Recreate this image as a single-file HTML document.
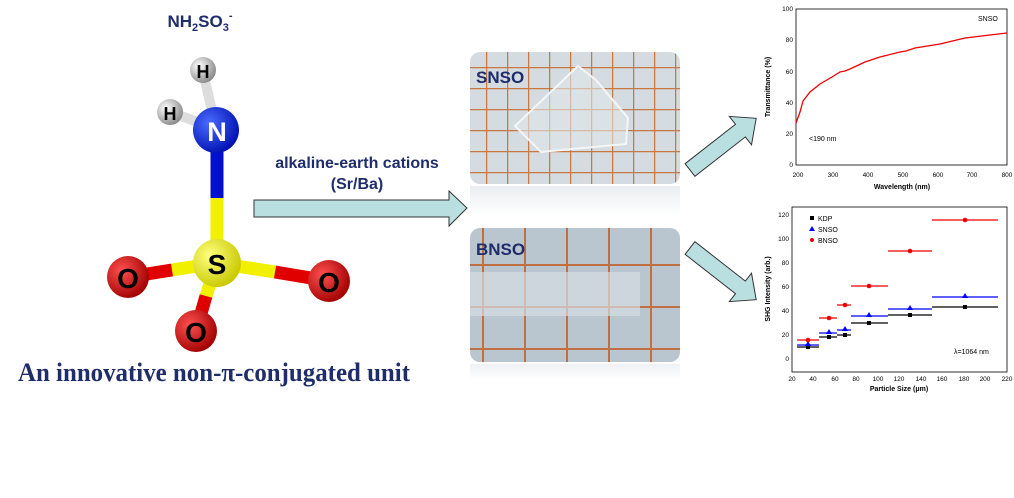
<!DOCTYPE html>
<html><head><meta charset="utf-8"><style>
html,body{margin:0;padding:0;background:#fff;width:1014px;height:498px;overflow:hidden}
svg text{font-family:"Liberation Sans",sans-serif}
</style></head><body>
<svg width="1014" height="498" viewBox="0 0 1014 498" xmlns="http://www.w3.org/2000/svg">
<defs>
<radialGradient id="gN" cx="0.35" cy="0.35" r="0.7"><stop offset="0" stop-color="#4a6cff"/><stop offset="1" stop-color="#0010b0"/></radialGradient>
<radialGradient id="gS" cx="0.35" cy="0.35" r="0.7"><stop offset="0" stop-color="#ffff80"/><stop offset="1" stop-color="#c8c800"/></radialGradient>
<radialGradient id="gO" cx="0.35" cy="0.35" r="0.7"><stop offset="0" stop-color="#ff5050"/><stop offset="1" stop-color="#a00000"/></radialGradient>
<radialGradient id="gH" cx="0.35" cy="0.35" r="0.7"><stop offset="0" stop-color="#ffffff"/><stop offset="1" stop-color="#888"/></radialGradient>
<linearGradient id="refl" x1="0" y1="0" x2="0" y2="1"><stop offset="0" stop-color="#dde2e6"/><stop offset="1" stop-color="#fff"/></linearGradient>
<pattern id="grid1" width="21" height="21" patternUnits="userSpaceOnUse" x="3" y="4"><rect width="21" height="21" fill="#d4dce2"/><path d="M0 0H21M0 0V21" stroke="#c87840" stroke-width="2.5"/></pattern>
<pattern id="grid2" width="42" height="42" patternUnits="userSpaceOnUse" x="20" y="12"><rect width="42" height="42" fill="#b9c5cf"/><path d="M0 0H42M0 0V42" stroke="#c07040" stroke-width="4"/></pattern>
</defs>
<text x="200" y="27" font-size="17" font-weight="bold" fill="#1f2d6b" text-anchor="middle">NH<tspan font-size="11" dy="4">2</tspan><tspan dy="-4">SO</tspan><tspan font-size="11" dy="4">3</tspan><tspan font-size="11" dy="-12">-</tspan></text>
<line x1="203" y1="72" x2="216" y2="128" stroke="#ddd" stroke-width="10"/>
<line x1="170" y1="112" x2="214" y2="128" stroke="#ddd" stroke-width="10"/>
<line x1="217" y1="140" x2="217" y2="200" stroke="#0010d0" stroke-width="13"/>
<line x1="217" y1="198" x2="217" y2="262" stroke="#f0f000" stroke-width="13"/>
<line x1="217" y1="263" x2="172" y2="270" stroke="#f0f000" stroke-width="13"/>
<line x1="172" y1="270" x2="128" y2="277" stroke="#e00000" stroke-width="13"/>
<line x1="217" y1="263" x2="275" y2="272" stroke="#f0f000" stroke-width="13"/>
<line x1="275" y1="272" x2="329" y2="281" stroke="#e00000" stroke-width="13"/>
<line x1="217" y1="263" x2="206" y2="296" stroke="#f0f000" stroke-width="13"/>
<line x1="206" y1="296" x2="196" y2="331" stroke="#e00000" stroke-width="13"/>
<circle cx="216" cy="130" r="23" fill="url(#gN)"/>
<circle cx="203" cy="70" r="13" fill="url(#gH)"/>
<circle cx="170" cy="112" r="13" fill="url(#gH)"/>
<circle cx="217" cy="263" r="24" fill="url(#gS)"/>
<circle cx="128" cy="277" r="21" fill="url(#gO)"/>
<circle cx="329" cy="281" r="21" fill="url(#gO)"/>
<circle cx="196" cy="331" r="21" fill="url(#gO)"/>
<text x="217" y="141" font-size="27" font-weight="bold" fill="#fff" text-anchor="middle">N</text>
<text x="203" y="78" font-size="18" font-weight="bold" fill="#000" text-anchor="middle">H</text>
<text x="170" y="120" font-size="18" font-weight="bold" fill="#000" text-anchor="middle">H</text>
<text x="217" y="274" font-size="28" font-weight="bold" fill="#000" text-anchor="middle">S</text>
<text x="128" y="288" font-size="28" font-weight="bold" fill="#000" text-anchor="middle">O</text>
<text x="329" y="292" font-size="28" font-weight="bold" fill="#000" text-anchor="middle">O</text>
<text x="196" y="342" font-size="28" font-weight="bold" fill="#000" text-anchor="middle">O</text>
<text x="18" y="381" font-size="26" font-weight="bold" fill="#1f2d6b" textLength="392" lengthAdjust="spacingAndGlyphs" style="font-family:'Liberation Serif',serif">An innovative non-π-conjugated unit</text>
<text x="357" y="168" font-size="16" font-weight="bold" fill="#1f2d6b" text-anchor="middle">alkaline-earth cations</text>
<text x="357" y="189" font-size="16" font-weight="bold" fill="#1f2d6b" text-anchor="middle">(Sr/Ba)</text>
<polygon points="254,200 449,200 449,191 467,208 449,226 449,217 254,217" fill="#b9dfe0" stroke="#333" stroke-width="1"/>
<rect x="470" y="52" width="210" height="132" rx="10" fill="url(#grid1)"/>
<polygon points="578,66 596,80 628,118 626,144 541,152 515,126" fill="#e0e6ea" fill-opacity="0.6" stroke="#f4f6f8" stroke-width="2"/>
<rect x="470" y="186" width="210" height="30" fill="url(#refl)" opacity="0.6"/>
<text x="476" y="83" font-size="17" font-weight="bold" fill="#1f2d6b">SNSO</text>
<rect x="470" y="228" width="210" height="134" rx="10" fill="url(#grid2)"/>
<rect x="470" y="272" width="170" height="44" fill="#d6dce2" opacity="0.7"/>
<rect x="470" y="364" width="210" height="16" fill="url(#refl)" opacity="0.5"/>
<text x="476" y="255" font-size="17" font-weight="bold" fill="#1f2d6b">BNSO</text>
<g transform="translate(690,170) rotate(-38)"><polygon points="0,-8 64,-8 64,-18 84,0 64,18 64,8 0,8" fill="#b9dfe0" stroke="#333"/></g>
<g transform="translate(690,248) rotate(38)"><polygon points="0,-8 64,-8 64,-18 84,0 64,18 64,8 0,8" fill="#b9dfe0" stroke="#333"/></g>
<g font-size="6.5" fill="#000">
<rect x="796" y="9" width="211" height="156" fill="none" stroke="#000" stroke-width="0.8"/>
<g text-anchor="end"><text x="793" y="167">0</text><text x="793" y="136">20</text><text x="793" y="105">40</text><text x="793" y="74">60</text><text x="793" y="42">80</text><text x="793" y="11">100</text></g>
<g text-anchor="middle"><text x="798" y="177">200</text><text x="833" y="177">300</text><text x="868" y="177">400</text><text x="903" y="177">500</text><text x="938" y="177">600</text><text x="972" y="177">700</text><text x="1007" y="177">800</text></g>
<text x="902" y="189" text-anchor="middle" font-weight="bold" font-size="7">Wavelength (nm)</text>
<text transform="translate(770,87) rotate(-90)" text-anchor="middle" font-weight="bold" font-size="7">Transmittance (%)</text>
<text x="978" y="21" font-size="7">SNSO</text>
<text x="809" y="141" font-size="7">&lt;190 nm</text>
<path d="M796,123 L800,112 L803,101 L810,92 L820,84 L832,77 L840,72 L845,71 L850,69 L865,62 L880,57 L900,52 L906,51 L915,48 L940,44 L965,38 L990,35 L1007,33" fill="none" stroke="#e00" stroke-width="1.3"/>
</g>
<g font-size="6.5" fill="#000">
<rect x="792" y="207" width="215" height="165" fill="none" stroke="#000" stroke-width="0.8"/>
<g text-anchor="end"><text x="789" y="361">0</text><text x="789" y="337">20</text><text x="789" y="313">40</text><text x="789" y="289">60</text><text x="789" y="265">80</text><text x="789" y="241">100</text><text x="789" y="217">120</text></g>
<g text-anchor="middle"><text x="792" y="381">20</text><text x="813" y="381">40</text><text x="835" y="381">60</text><text x="856" y="381">80</text><text x="878" y="381">100</text><text x="899" y="381">120</text><text x="921" y="381">140</text><text x="942" y="381">160</text><text x="964" y="381">180</text><text x="985" y="381">200</text><text x="1007" y="381">220</text></g>
<text x="899" y="391" text-anchor="middle" font-weight="bold" font-size="7">Particle Size (μm)</text>
<text transform="translate(770,289) rotate(-90)" text-anchor="middle" font-weight="bold" font-size="7">SHG Intensity (arb.)</text>
<rect x="810" y="216" width="4" height="4" fill="#000"/><text x="818" y="221" font-size="7">KDP</text>
<polygon points="812,226 815,231 809,231" fill="#00f"/><text x="818" y="232" font-size="7">SNSO</text>
<circle cx="812" cy="240" r="2" fill="#e00"/><text x="818" y="243" font-size="7">BNSO</text>
<text x="954" y="354" font-size="7">λ=1064 nm</text>
<g stroke-width="1.2" fill="none">
<path stroke="#000" d="M797,347H819M819,337H837M837,335H851M851,323H888M888,315H932M932,307H998"/>
<path stroke="#00f" d="M797,345H819M819,333H837M837,330H851M851,316H888M888,309H932M932,297H998"/>
<path stroke="#e00" d="M797,340H819M819,318H837M837,305H851M851,286H888M888,251H932M932,220H998"/>
</g>
<g fill="#000"><rect x="806" y="345" width="4" height="4"/><rect x="827" y="335" width="4" height="4"/><rect x="843" y="333" width="4" height="4"/><rect x="867" y="321" width="4" height="4"/><rect x="908" y="313" width="4" height="4"/><rect x="963" y="305" width="4" height="4"/></g>
<g fill="#00f"><polygon points="808,341 811,346 805,346"/><polygon points="829,329 832,334 826,334"/><polygon points="845,326 848,331 842,331"/><polygon points="869,312 872,317 866,317"/><polygon points="910,305 913,310 907,310"/><polygon points="965,293 968,298 962,298"/></g>
<g fill="#e00"><circle cx="808" cy="340" r="2.3"/><circle cx="829" cy="318" r="2.3"/><circle cx="845" cy="305" r="2.3"/><circle cx="869" cy="286" r="2.3"/><circle cx="910" cy="251" r="2.3"/><circle cx="965" cy="220" r="2.3"/></g>
</g>
</svg>
</body></html>
